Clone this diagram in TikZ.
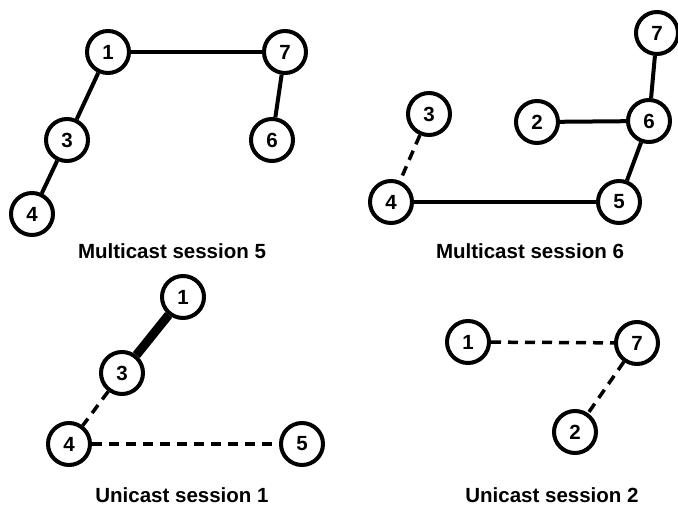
\documentclass[tikz,border=0pt]{standalone}
\usepackage{fontspec}
\setmainfont{Liberation Sans}
\usetikzlibrary{positioning}

\begin{document}
\begin{tikzpicture}[x=1pt, y=-1pt,
    every node/.style={font=\bfseries\fontsize{20.5}{24}\selectfont},
    station/.style={circle, draw, line width=4pt, minimum size=42pt, inner sep=0pt, fill=white},
    link/.style={line width=4pt},
    heavylink/.style={line width=9pt},
    weaklink/.style={line width=3.5pt, dash pattern=on 10pt off 7pt}]
    \useasboundingbox (0,0) rectangle (678,510);

    % Multicast session 5
    \node[station] (m5a) at (108,52) {1};
    \node[station] (m5g) at (285,52) {7};
    \node[station] (m5c) at (67,140) {3};
    \node[station] (m5f) at (272,140) {6};
    \node[station] (m5d) at (32,214) {4};
    \draw[link] (m5a) -- (m5g);
    \draw[link] (m5a) -- (m5c);
    \draw[link] (m5c) -- (m5d);
    \draw[link] (m5g) -- (m5f);
    \node (m5title) at (172,251) {Multicast session 5};

    % Multicast session 6
    \node[station] (m6g) at (657,33) {7};
    \node[station] (m6c) at (429,114) {3};
    \node[station] (m6b) at (537,122) {2};
    \node[station] (m6f) at (649,121) {6};
    \node[station] (m6d) at (391,202) {4};
    \node[station] (m6e) at (619,202) {5};
    \draw[weaklink] (m6c) -- (m6d);
    \draw[link] (m6b) -- (m6f);
    \draw[link] (m6f) -- (m6g);
    \draw[link] (m6f) -- (m6e);
    \draw[link] (m6d) -- (m6e);
    \node (m6title) at (530,251) {Multicast session 6};

    % Unicast session 1
    \node[station] (u1a) at (183,297) {1};
    \node[station] (u1c) at (122,373) {3};
    \node[station] (u1d) at (69,444) {4};
    \node[station] (u1e) at (302,444) {5};
    \draw[heavylink] (u1a) -- (u1c);
    \draw[weaklink] (u1c) -- (u1d);
    \draw[weaklink] (u1d) -- (u1e);
    \node (u1title) at (182,495) {Unicast session 1};

    % Unicast session 2
    \node[station] (u2a) at (468,342) {1};
    \node[station] (u2g) at (637,343) {7};
    \node[station] (u2b) at (575,432) {2};
    \draw[weaklink] (u2a) -- (u2g);
    \draw[weaklink] (u2g) -- (u2b);
    \node (u2title) at (552,495) {Unicast session 2};
\end{tikzpicture}
\end{document}
